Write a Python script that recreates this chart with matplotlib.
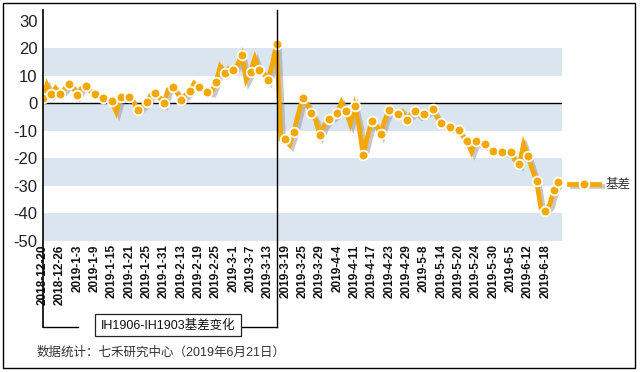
import matplotlib
matplotlib.use("Agg")
import matplotlib.pyplot as plt
import matplotlib.patheffects as pe
from matplotlib.lines import Line2D
from matplotlib.patches import Rectangle
from matplotlib.legend_handler import HandlerTuple
import matplotlib.transforms as mtransforms

# ---- data ----
tick_labels = ["2018-12-20", "2018-12-26", "2019-1-3", "2019-1-9", "2019-1-15",
               "2019-1-21", "2019-1-25", "2019-1-31", "2019-2-13", "2019-2-19",
               "2019-2-25", "2019-3-1", "2019-3-7", "2019-3-13", "2019-3-19",
               "2019-3-25", "2019-3-29", "2019-4-4", "2019-4-11", "2019-4-17",
               "2019-4-23", "2019-4-29", "2019-5-8", "2019-5-14", "2019-5-20",
               "2019-5-24", "2019-5-30", "2019-6-5", "2019-6-12", "2019-6-18"]
tick_step = 4
basis = [1.8, 6.7, 3.3, 5.5, 3.3, 5.0, 7.0, 6.0, 3.0, 5.5,
         6.4, 4.5, 3.3, 2.5, 2.0, 1.5, 0.8, -3.0, 2.2, 2.5,
         2.2, 0.5, -2.4, -1.0, 0.4, 3.0, 3.9, 2.0, 0.0, 5.0,
         6.0, 4.0, 1.2, 3.0, 4.5, 7.3, 6.0, 5.0, 4.2, 4.0,
         7.6, 13.3, 10.9, 12.7, 12.1, 14.0, 17.6, 8.5, 11.5, 16.4,
         12.1, 11.0, 8.5, 14.0, 21.5, -13.0, -13.1, -15.0, -10.4, -4.0,
         2.0, 0.0, -3.4, -6.0, -11.5, -8.0, -5.8, -5.0, -3.4, 0.4,
         -2.7, -7.3, -1.0, -8.0, -18.8, -12.0, -6.4, -8.0, -11.3, -6.0,
         -2.4, -3.0, -3.9, -3.0, -6.0, -4.0, -2.8, -4.5, -4.0, -3.0,
         -2.0, -5.0, -7.0, -8.0, -8.7, -9.5, -9.7, -12.0, -13.7, -17.6,
         -13.6, -15.0, -14.9, -16.5, -17.2, -17.5, -17.8, -18.0, -17.8, -20.6,
         -22.2, -14.9, -19.0, -24.0, -28.3, -38.0, -39.0, -37.0, -31.5, -28.7]
expiry_index = 54
series_name = "基差"
box_label = "IH1906-IH1903基差变化"
footer = "数据统计：七禾研究中心（2019年6月21日）"
yticks = [30, 20, 10, 0, -10, -20, -30, -40, -50]

# ---- style ----
W, H = 641, 372
ORANGE = "#F5A800"
BAND = "#DAE5F0"
FAM = ["Liberation Sans", "Noto Sans CJK SC"]
plt.rcParams["font.family"] = FAM

fig = plt.figure(figsize=(W / 100, H / 100), dpi=100)

def fx(px):
    return px / W

def fy(py):
    return 1 - py / H

ax_left, ax_right, ax_top, ax_bot = 42.5, 561.7, 20.8, 240.8
ax = fig.add_axes([fx(ax_left), fy(ax_bot), fx(ax_right - ax_left), (ax_bot - ax_top) / H])
ax.set_xlim(0, 119.8)
ax.set_ylim(-50, 30)
for s in ax.spines.values():
    s.set_visible(False)

for lo, hi in [(10, 20), (-10, 0), (-30, -20), (-50, -40)]:
    ax.axhspan(lo, hi, color=BAND, lw=0, zorder=0)
ax.axhline(0, color="black", lw=1.0, zorder=1)

x = list(range(len(basis)))
marks = list(range(0, len(basis), 2))
if marks[-1] != len(basis) - 1:
    marks.append(len(basis) - 1)

line, = ax.plot(x, basis, color=ORANGE, lw=3.4, solid_joinstyle="miter", zorder=3,
                path_effects=[pe.SimpleLineShadow(offset=(2, -2), shadow_color="#9a9a9a", alpha=0.55),
                              pe.Normal()])
mk, = ax.plot([x[i] for i in marks], [basis[i] for i in marks], ls="none", marker="o",
              ms=7, mfc=ORANGE, mec="white", mew=1.3, zorder=4)

ax.set_xticks(list(range(0, len(basis), tick_step)))
ax.set_xticklabels(tick_labels, rotation=90, fontsize=8.5, fontweight="bold",
                   va="top", ha="center", color="#111111")
ax.tick_params(axis="x", length=0, pad=2.5)
ax.set_yticks(yticks)
ax.set_yticklabels([str(v) for v in yticks], fontsize=12, color="#222222")
ax.tick_params(axis="y", length=0, pad=3.5)

# axis line / bracket
blend = mtransforms.blended_transform_factory(ax.transData, fig.transFigure)
y_top, y_br = fy(10), fy(327)
ax.add_line(Line2D([0, 0], [y_top, y_br], transform=blend, color="black", lw=1.2, clip_on=False, zorder=5))
ax.add_line(Line2D([expiry_index, expiry_index], [y_top, y_br], transform=blend, color="black",
                   lw=1.0, clip_on=False, zorder=5))
x0_px = ax.transData.transform((0, 0))[0]
x1_px = ax.transData.transform((expiry_index, 0))[0]
fig.add_artist(Line2D([fx(x0_px), fx(78)], [y_br, y_br], color="black", lw=1.0))
fig.add_artist(Line2D([fx(242), fx(x1_px)], [y_br, y_br], color="black", lw=1.0))
fig.text(fx(168), fy(325), box_label, ha="center", va="center", fontsize=9, color="#111111",
         bbox=dict(boxstyle="square,pad=0.42", fc="white", ec="#222222", lw=0.9))

fig.text(fx(37), fy(353), footer, ha="left", va="center", fontsize=9, color="#333333")

fig.legend([(line, mk)], [series_name], handler_map={tuple: HandlerTuple(ndivide=1, pad=0)},
           loc="center left", bbox_to_anchor=(fx(569), fy(185)), frameon=False,
           handlelength=2.4, handletextpad=0.55, borderpad=0, borderaxespad=0,
           fontsize=9, labelcolor="#333333")

fig.add_artist(Rectangle((fx(3), fy(368)), fx(632), (368 - 3) / H, transform=fig.transFigure,
                         fill=False, ec="black", lw=1.0))

fig.savefig("out.png", dpi=100)
